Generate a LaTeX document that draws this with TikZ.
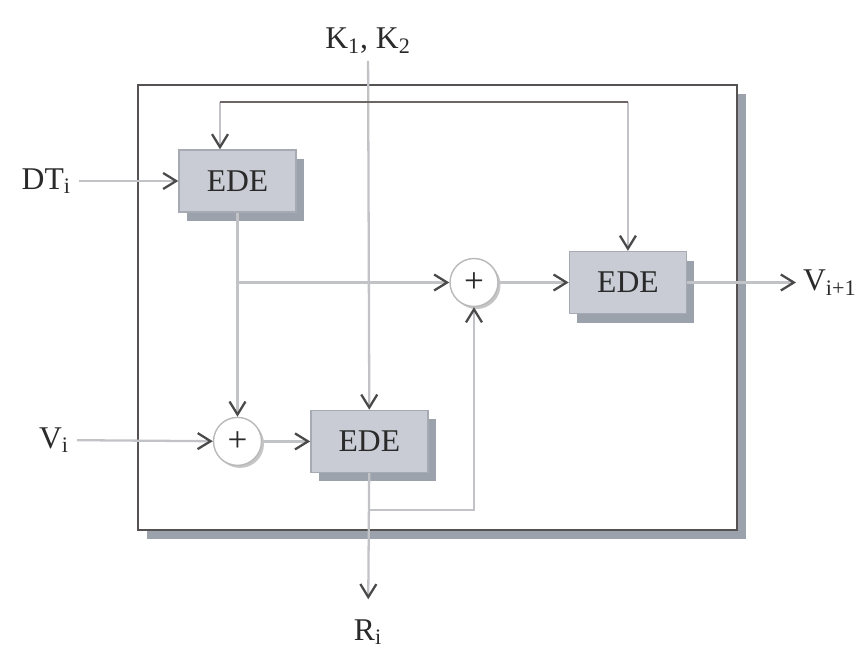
\documentclass[tikz,border=0pt]{standalone}
\usepackage{fontspec}
\setmainfont{Liberation Serif}
\usetikzlibrary{arrows.meta,positioning,shadows}
\definecolor{wire}{HTML}{C2C3C6}
\definecolor{keyline}{HTML}{6E6664}
\definecolor{edefill}{HTML}{C9CCD4}
\definecolor{edeline}{HTML}{A6AAB2}
\definecolor{shadowgray}{HTML}{9CA2AB}
\definecolor{frame}{HTML}{565252}
\definecolor{ink}{HTML}{2A2A2A}

\begin{document}
\begin{tikzpicture}[
  box/.style={rectangle,draw=edeline,fill=edefill,line width=0.8pt,minimum width=2.34cm,minimum height=1.24cm,
    general shadow={fill=shadowgray,shadow xshift=0.16cm,shadow yshift=-0.18cm},font=\fontsize{18}{21}\selectfont,text=ink},
  sum/.style={circle,draw=gray!55,fill=white,line width=0.8pt,minimum size=0.96cm,inner sep=0pt,
    general shadow={fill=gray!45,shadow xshift=0.05cm,shadow yshift=-0.05cm},font=\fontsize{20}{22}\selectfont,text=ink},
  lbl/.style={font=\fontsize{18}{21}\selectfont,text=ink,inner sep=1pt},
  arr/.style={-{Straight Barb[length=2.6mm,width=3.2mm,color=ink!85]},line width=1.3pt,draw=wire},
  node distance=0.55cm]
  \useasboundingbox (0,0) rectangle (17.24,-13.08);
  % outer unit
  \fill[shadowgray] (2.94,-1.88) rectangle (14.92,-10.78);
  \draw[frame,fill=white,line width=1.6pt] (2.76,-1.70) rectangle (14.74,-10.60);

  \node[box] (ede1) at (4.75,-3.62) {EDE};
  \node[sum,below=4.08cm of ede1] (sum2) {+};
  \node[box,right=0.96cm of sum2] (ede2) {EDE};
  \node[sum] (sum1) at (9.48,-5.65) {+};
  \node[box,right=1.4cm of sum1] (ede3) {EDE};

  \node[lbl,anchor=base] (keys) at (7.36,-0.98) {K\textsubscript{1}, K\textsubscript{2}};
  \node[lbl,anchor=east] (dt) at (1.46,-3.62) {DT\textsubscript{i}};
  \node[lbl,anchor=east] (vi) at (1.42,-8.80) {V\textsubscript{i}};
  \node[lbl,anchor=west] (vnext) at (16.02,-5.65) {V\textsubscript{i+1}};
  \node[lbl] (ri) at (7.36,-12.64) {R\textsubscript{i}};

  \coordinate (kleft) at (4.40,-2.04);
  \coordinate (kright) at (ede3 |- kleft);
  \coordinate (split1) at (ede1 |- sum1);
  \coordinate (split2) at (ede2 |- 0,-10.2);

  \draw[arr,shorten <=0.1cm] (keys) -- (ede2);
  \draw[arr] (kleft) -- (kleft |- ede1.north);
  \draw[arr] (kright) -- (ede3);
  \draw[keyline,line width=1.3pt] (kleft) -- (kright);
  \draw[arr,shorten <=0.12cm] (dt) -- (ede1);
  \draw[arr] (ede1) -- (sum2);
  \draw[arr] (split1) -- (sum1);
  \draw[arr] (sum1) -- (ede3);
  \draw[arr,shorten >=0.1cm] (ede3) -- (vnext);
  \draw[arr,shorten <=0.12cm] (vi) -- (sum2);
  \draw[arr] (sum2) -- (ede2);
  \draw[arr,shorten >=0.36cm] (ede2) -- (ri);
  \draw[arr] (split2) -| (sum1);
\end{tikzpicture}
\end{document}
